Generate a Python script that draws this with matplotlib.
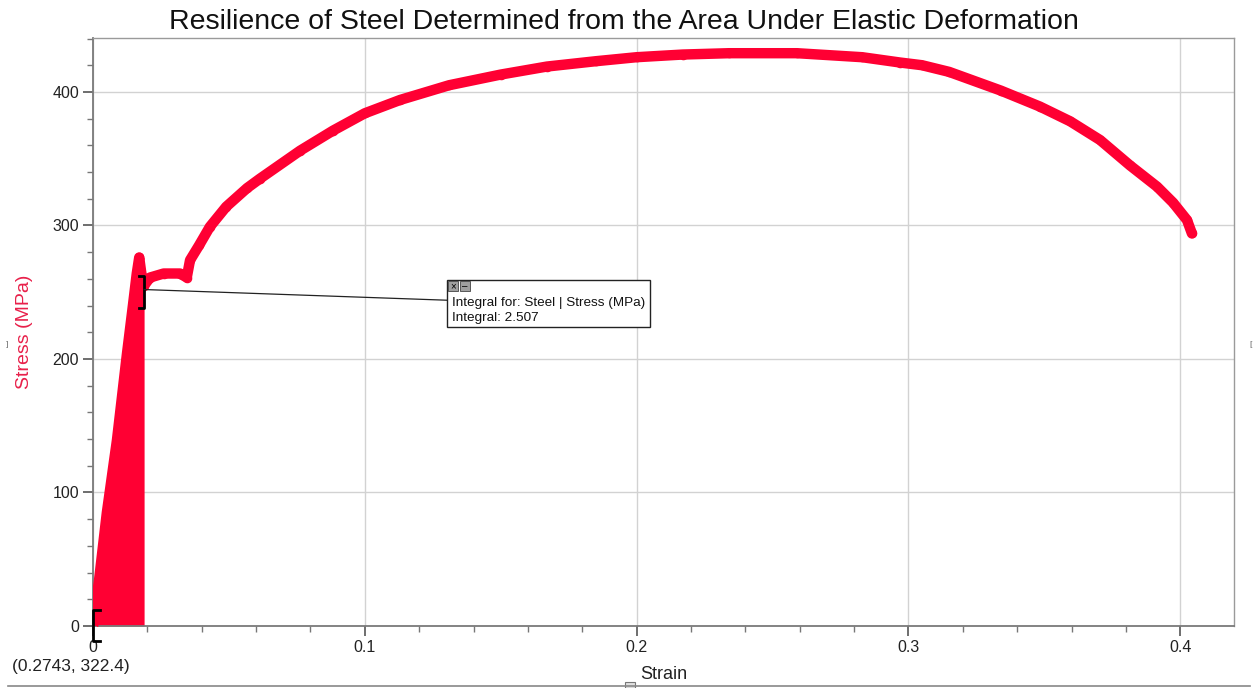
import numpy as np
import matplotlib
matplotlib.use("Agg")
from matplotlib import pyplot
from matplotlib import patches
from matplotlib.lines import Line2D
from matplotlib.ticker import MultipleLocator

pyplot.rcParams['font.family'] = ['Liberation Sans', 'DejaVu Sans']

# stress-strain record for the steel specimen
strain = [0, 0.0007, 0.0022, 0.0051, 0.0088, 0.0125, 0.0148, 0.0161, 0.0170,
          0.0180, 0.0188, 0.021, 0.026, 0.032, 0.0345, 0.0357, 0.039, 0.043,
          0.049, 0.0567, 0.0614, 0.0762, 0.0883, 0.100, 0.113, 0.131, 0.150,
          0.167, 0.185, 0.200, 0.217, 0.234, 0.259, 0.283, 0.297, 0.305,
          0.315, 0.334, 0.3484, 0.3595, 0.3705, 0.3815, 0.3915, 0.3974,
          0.4025, 0.4043]
stress = [0, 12, 34, 85, 139, 204, 242, 264, 276,
          261, 255, 261, 264, 264, 261, 274, 285, 299,
          314, 328, 335, 356, 371, 384, 394, 405, 413,
          419, 423, 426, 428, 429, 429, 426, 422, 420,
          415, 401, 389, 378, 364, 345, 329, 317,
          304, 294]

# integration window (elastic region)
integral_start = 0.0
integral_end = 0.0188
integral_value = 2.507
cursor_label = "(0.2743, 322.4)"

x_ticks = [0, 0.1, 0.2, 0.3, 0.4]
x_tick_labels = ['0', '0.1', '0.2', '0.3', '0.4']
y_ticks = [0, 100, 200, 300, 400]

RED = '#FF0033'

strain = np.array(strain)
stress = np.array(stress)

fig = pyplot.figure(figsize=(12.55, 6.88), dpi=100)
ax = fig.add_axes([0.0741, 0.0901, 0.9092, 0.8547])

# shaded area under the elastic part
mask = (strain >= integral_start) & (strain <= integral_end)
ax.fill_between(strain[mask], 0, stress[mask], color=RED, lw=0, zorder=2)

# the measured curve: thick band with open circle markers
ax.plot(strain, stress, color=RED, lw=7.5, solid_capstyle='round',
        solid_joinstyle='round', zorder=3)
ax.plot(strain, stress, 'o', mfc='none', mec=RED, ms=6, mew=0.9, zorder=3)

ax.set_xlim(0, 0.4198)
ax.set_ylim(0, 440.4)
ax.set_xticks(x_ticks)
ax.set_xticklabels(x_tick_labels)
ax.set_yticks(y_ticks)
ax.xaxis.set_minor_locator(MultipleLocator(0.02))
ax.yaxis.set_minor_locator(MultipleLocator(20))
ax.grid(True, which='major', color='#d2d2d2', lw=1.0, zorder=0)
ax.set_axisbelow(True)

for side in ['left', 'bottom']:
    ax.spines[side].set_color('#7a7a7a')
    ax.spines[side].set_linewidth(1.3)
for side in ['top', 'right']:
    ax.spines[side].set_color('#9a9a9a')
    ax.spines[side].set_linewidth(1.0)

ax.tick_params(which='major', length=7, width=1.2, color='#555555',
               labelsize=11.5, labelcolor='#222222', pad=3)
ax.tick_params(which='minor', length=4, width=1.0, color='#777777')

fig.text(624 / 1255, 1 - 22 / 688,
         'Resilience of Steel Determined from the Area Under Elastic Deformation',
         fontsize=20.5, color='#111111', ha='center', va='center')
ax.set_xlabel('Strain', fontsize=13, color='#222222', labelpad=8)
ax.set_ylabel('Stress (MPa)', fontsize=14, color='#E8204A', labelpad=14)

# integration brackets
dx = 0.0026
ax.plot([integral_start + dx, integral_start, integral_start, integral_start + dx],
        [12, 12, -11, -11], color='black', lw=2, clip_on=False, zorder=5)
ax.plot([integral_end - dx * 0.7, integral_end, integral_end, integral_end - dx * 0.7],
        [262, 262, 238, 238], color='black', lw=2, clip_on=False, zorder=5)

# callout line and box for the integral
ax.annotate('', xy=(integral_end, 252), xytext=(0.1302, 244),
            arrowprops=dict(arrowstyle='-', lw=0.9, color='#222222',
                            shrinkA=0, shrinkB=0), zorder=6)

bx, by, bw, bh = 447 / 1255, 1 - 327 / 688, 203 / 1255, 47 / 688
fig.patches.append(patches.Rectangle((bx, by), bw, bh, transform=fig.transFigure,
                                     fc='white', ec='#222222', lw=1.0, zorder=10))
fig.text(bx + 5 / 1255, 1 - 303 / 688, 'Integral for: Steel | Stress (MPa)',
         fontsize=9.7, color='#111111', va='center', ha='left', zorder=11)
fig.text(bx + 5 / 1255, 1 - 318 / 688, 'Integral: %.3f' % integral_value,
         fontsize=9.7, color='#111111', va='center', ha='left', zorder=11)
for i, sym in enumerate(['×', '–']):
    fig.patches.append(patches.Rectangle((bx + (1 + i * 12) / 1255, by + bh - 11 / 688),
                                         10 / 1255, 10 / 688,
                                         transform=fig.transFigure,
                                         fc='#a0a0a0', ec='#444444', lw=0.6, zorder=12))
    fig.text(bx + (6 + i * 12) / 1255, by + bh - 6 / 688, sym, fontsize=7,
             ha='center', va='center', color='black', zorder=13)

fig.text(12 / 1255, 1 - 666 / 688, cursor_label, fontsize=12.5, color='#222222',
         va='center', ha='left')

# window edge decorations
fig.add_artist(Line2D([8 / 1255, 1250 / 1255], [1 - 686 / 688, 1 - 686 / 688],
                      transform=fig.transFigure, color='#888888', lw=1.2))
fig.patches.append(patches.Rectangle((625 / 1255, 0), 10 / 1255, 6 / 688,
                                     transform=fig.transFigure, fc='#e0e0e0',
                                     ec='#777777', lw=0.8))
fig.text(7 / 1255, 1 - 345 / 688, ']', fontsize=6, color='#666666', ha='center', va='center')
fig.text(1251 / 1255, 1 - 345 / 688, '[', fontsize=6, color='#666666', ha='center', va='center')

fig.savefig('out.png', dpi=100)
